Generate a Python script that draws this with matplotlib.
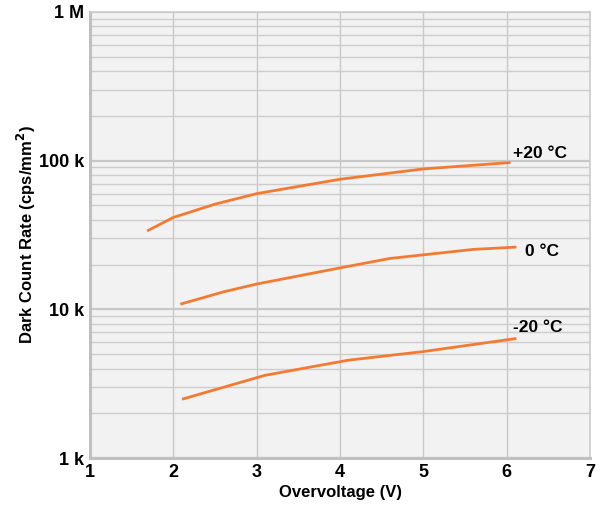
import matplotlib
matplotlib.use("Agg")
import matplotlib.pyplot as plt
import matplotlib.ticker as mticker

# ── data ──────────────────────────────────────────────────
v_p20 = [1.70, 2.0, 2.5, 3.0, 4.0, 5.0, 6.03]
dcr_p20 = [34000, 41500, 51000, 60000, 75000, 88000, 97000]

v_0 = [2.1, 2.6, 3.0, 4.0, 4.6, 5.6, 6.1]
dcr_0 = [10900, 13100, 14800, 19000, 22000, 25300, 26200]

v_m20 = [2.12, 3.1, 4.1, 5.0, 6.1]
dcr_m20 = [2500, 3600, 4550, 5200, 6350]

curve_labels = ["+20 °C", "0 °C", "-20 °C"]
label_pos = [(6.08, 112000), (6.22, 24500), (6.07, 7600)]

yticks = [1e3, 1e4, 1e5, 1e6]
ytick_labels = ["1 k", "10 k", "100 k", "1 M"]

# ── plot ──────────────────────────────────────────────────
plt.rcParams.update({
    "font.family": ["Liberation Sans", "DejaVu Sans"],
    "font.weight": "bold",
})

fig = plt.figure(figsize=(6.01, 5.08), dpi=100)
ax = fig.add_axes([0.1498, 0.0984, 0.832, 0.878])
ax.set_facecolor("#f2f2f2")

orange = "#f47a32"
for xs, ys in [(v_p20, dcr_p20), (v_0, dcr_0), (v_m20, dcr_m20)]:
    ax.plot(xs, ys, color=orange, linewidth=2.0, zorder=3)

for txt, (x, y) in zip(curve_labels, label_pos):
    ax.text(x, y, txt, fontsize=12.5, fontweight="bold", ha="left", va="center")

ax.set_yscale("log")
ax.set_xlim(1, 7)
ax.set_ylim(1e3, 1e6)
ax.xaxis.set_major_locator(mticker.MultipleLocator(1))
ax.set_yticks(yticks)
ax.set_yticklabels(ytick_labels)
ax.yaxis.set_minor_locator(mticker.LogLocator(base=10, subs=range(2, 10)))
ax.yaxis.set_minor_formatter(mticker.NullFormatter())

ax.grid(True, which="major", axis="x", color="#c8c8c8", linewidth=1.0)
ax.grid(True, which="major", axis="y", color="#c8c8c8", linewidth=1.6)
ax.grid(True, which="minor", axis="y", color="#cdcdcd", linewidth=1.0)
ax.set_axisbelow(True)

ax.tick_params(axis="both", which="both", length=0, labelsize=13, pad=4)
for lab in ax.get_xticklabels() + ax.get_yticklabels():
    lab.set_fontweight("bold")

for side in ["left", "bottom"]:
    ax.spines[side].set_color("#c0c0c0")
    ax.spines[side].set_linewidth(2.2)
for side in ["right", "top"]:
    ax.spines[side].set_color("#cccccc")
    ax.spines[side].set_linewidth(1.2)

ax.set_xlabel("Overvoltage (V)", fontsize=12, fontweight="bold", labelpad=3)
ax.set_ylabel("Dark Count Rate (cps/mm$^\\mathbf{2}$)", fontsize=12,
              fontweight="bold", labelpad=1)

plt.savefig("out.png", dpi=100)
plt.close()
